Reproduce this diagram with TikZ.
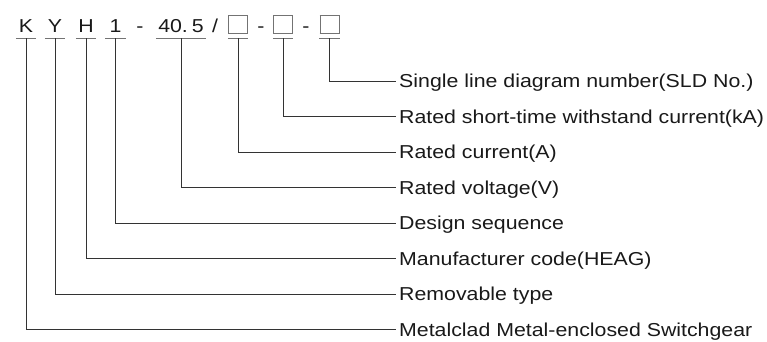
\documentclass[tikz,border=0pt]{standalone}
\usepackage{fontspec}
\setmainfont{Liberation Sans}[FakeStretch=1.14]
\definecolor{garis}{gray}{0.2}
\definecolor{abu}{gray}{0.45}
\newcommand{\kotak}{\raisebox{-1.3pt}{\color{abu}\setlength\fboxrule{0.9pt}\setlength\fboxsep{0pt}\fbox{\rule{0pt}{17.2pt}\hspace{18.2pt}}}}
\tikzset{
  kode/.style={anchor=base,inner sep=0pt,text depth=6pt,minimum width=20pt},
  tanda/.style={anchor=base,inner sep=0pt},
  ket/.style={anchor=west,inner xsep=3pt,inner ysep=0pt,text height=13.4pt,text depth=0pt}
}

\begin{document}
\begin{tikzpicture}[x=1pt,y=-1pt,font=\fontsize{18.7}{22}\selectfont,text=black!90]
  \useasboundingbox (0,0) rectangle (767,341);

  % kode tipe
  \node[kode] (K)  at (26,32)    {K};
  \node[kode] (Y)  at (55,32)    {Y};
  \node[kode] (H)  at (86,32)    {H};
  \node[kode] (N)  at (115.5,32) {1};
  \node[tanda] (s1) at (140,32)  {-};
  \node[kode,minimum width=50pt] (U) at (181,32) {40.\kern4pt5};
  \node[tanda] (gm) at (215,32)  {/};
  \node[kode] (I)  at (238,32)   {\kotak};
  \node[tanda] (s2) at (261,32)  {-};
  \node[kode] (Ik) at (283,32)   {\kotak};
  \node[tanda] (s3) at (306,32)  {-};
  \node[kode] (S)  at (329.5,32) {\kotak};

  \foreach \n in {K,Y,H,N,U,I,Ik,S}
    \draw[abu,line width=0.9pt] (\n.south west) -- (\n.south east);

  % keterangan
  \node[ket] (kS)  at (396,81)    {Single line diagram number(SLD No.)};
  \node[ket] (kIk) at (396,116.5) {Rated short-time withstand current(kA)};
  \node[ket] (kI)  at (396,152)   {Rated current(A)};
  \node[ket] (kU)  at (396,187.5) {Rated voltage(V)};
  \node[ket] (kN)  at (396,223)   {Design sequence};
  \node[ket] (kH)  at (396,258.5) {Manufacturer code(HEAG)};
  \node[ket] (kY)  at (396,294)   {Removable type};
  \node[ket] (kK)  at (396,329.5) {Metalclad Metal-enclosed Switchgear};

  \foreach \a/\b in {S/kS,Ik/kIk,I/kI,U/kU,N/kN,H/kH,Y/kY,K/kK}
    \draw[garis,line width=0.9pt] (\a.south) |- (\b.west);
\end{tikzpicture}
\end{document}
